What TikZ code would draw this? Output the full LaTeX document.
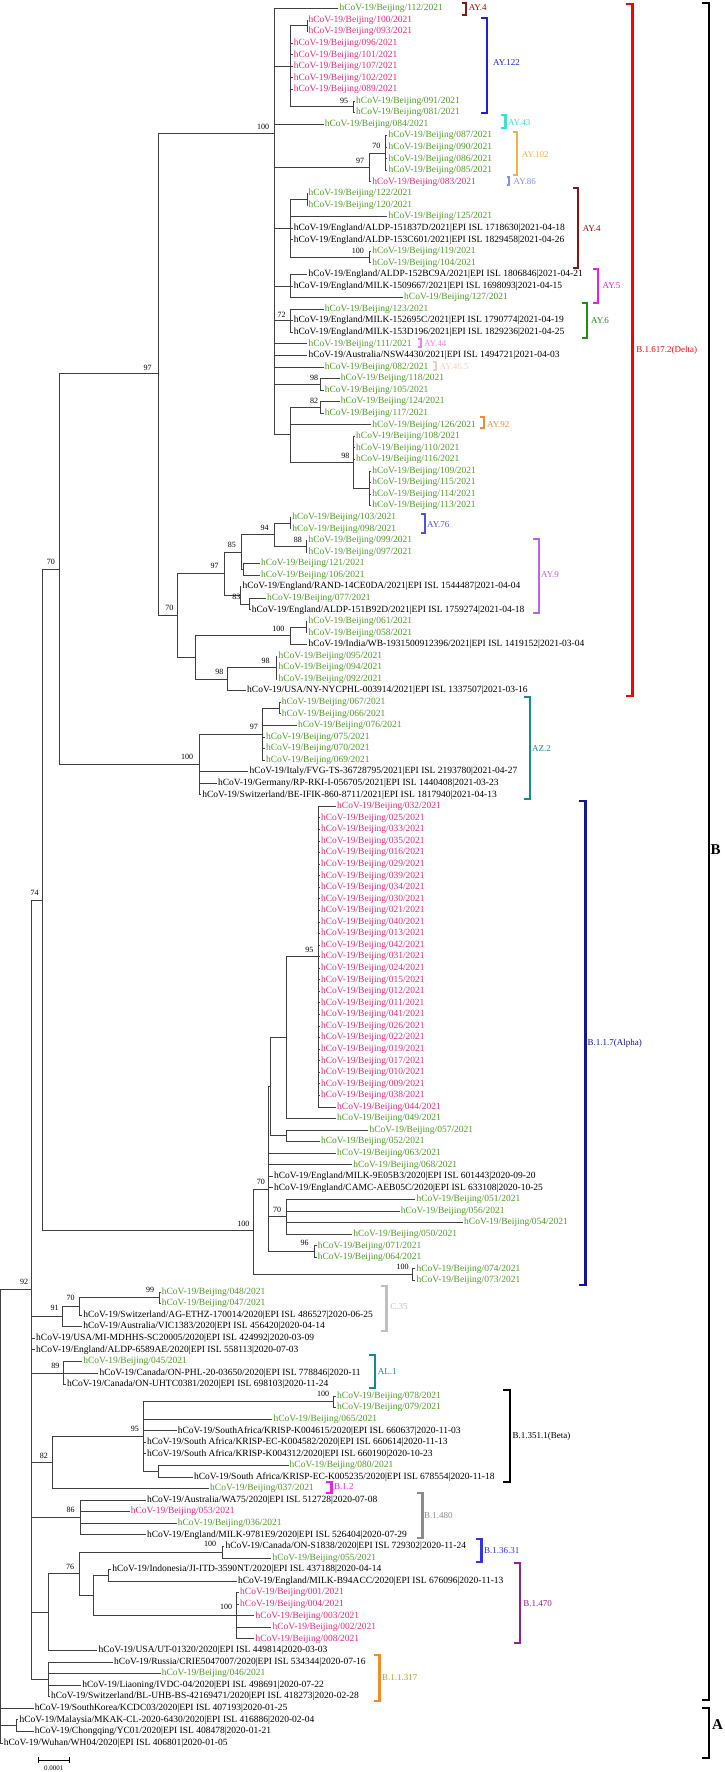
\documentclass[tikz,border=0pt]{standalone}
\usepackage{fontspec}
\setmainfont{Liberation Serif}
\definecolor{lg}{RGB}{80,155,40}
\definecolor{lp}{RGB}{232,40,125}
\definecolor{cAYfour}{RGB}{139,20,20}
\definecolor{cAY122}{RGB}{30,30,230}
\definecolor{cAY43}{RGB}{64,224,208}
\definecolor{cAY102}{RGB}{240,180,70}
\definecolor{cAY86}{RGB}{128,144,240}
\definecolor{cAY5}{RGB}{230,30,230}
\definecolor{cAY6}{RGB}{30,140,30}
\definecolor{cAY44}{RGB}{240,128,240}
\definecolor{cAY465}{RGB}{245,205,190}
\definecolor{cAY92}{RGB}{240,138,60}
\definecolor{cAY76}{RGB}{80,80,224}
\definecolor{cAY9}{RGB}{180,100,240}
\definecolor{cAZ2}{RGB}{20,140,140}
\definecolor{cAlpha}{RGB}{20,20,150}
\definecolor{cC35}{RGB}{192,192,192}
\definecolor{cAL1}{RGB}{20,140,140}
\definecolor{cB12}{RGB}{240,30,240}
\definecolor{cB480}{RGB}{140,140,140}
\definecolor{cB3631}{RGB}{50,50,230}
\definecolor{cB470}{RGB}{150,30,150}
\definecolor{cB317}{RGB}{240,140,40}
\definecolor{cB317t}{RGB}{180,160,50}
\newcommand\BJ[1]{hCoV-19/Beijing/#1/2021}
\newcommand\Lf[5]{\node[leaf,text=#4] (#1) at ({#3-1},#2) {#5};}
\newcommand\Brk[9]{\draw[brk,draw=#2] (#3,#5) -- (#4,#5) -- (#4,#6) -- (#3,#6);
  \node[clab,text=#2] (#1) at (#7,#8) {#9};}
\begin{document}
\begin{tikzpicture}[x=1pt,y=-1pt,
  tree/.style={line width=0.9pt,draw=black!75},
  leaf/.style={anchor=west,inner xsep=1pt,inner ysep=0pt,font=\fontsize{9.5}{10}\selectfont},
  bs/.style={inner sep=0pt,font=\fontsize{8}{9}\selectfont},
  brk/.style={line width=2.2pt},
  clab/.style={anchor=west,inner sep=0pt,font=\fontsize{9}{10}\selectfont}]
\useasboundingbox (0,0) rectangle (724,1772);
\begin{scope}[y=-11.563pt,yshift=3.063pt]
% ---------- leaves ----------
\Lf{L1}{1}{339.3}{lg}{\BJ{112}}
\Lf{L2}{2}{308.4}{lp}{\BJ{100}}
\Lf{L3}{3}{308.4}{lp}{\BJ{093}}
\Lf{L4}{4}{293.6}{lp}{\BJ{096}}
\Lf{L5}{5}{293.6}{lp}{\BJ{101}}
\Lf{L6}{6}{293.6}{lp}{\BJ{107}}
\Lf{L7}{7}{293.6}{lp}{\BJ{102}}
\Lf{L8}{8}{293.6}{lp}{\BJ{089}}
\Lf{L9}{9}{356}{lg}{\BJ{091}}
\Lf{L10}{10}{356}{lg}{\BJ{081}}
\Lf{L11}{11}{324.6}{lg}{\BJ{084}}
\Lf{L12}{12}{388.3}{lg}{\BJ{087}}
\Lf{L13}{13}{388.3}{lg}{\BJ{090}}
\Lf{L14}{14}{388.3}{lg}{\BJ{086}}
\Lf{L15}{15}{388.3}{lg}{\BJ{085}}
\Lf{L16}{16}{372.1}{lp}{\BJ{083}}
\Lf{L17}{17}{308.4}{lg}{\BJ{122}}
\Lf{L18}{18}{308.4}{lg}{\BJ{120}}
\Lf{L19}{19}{388.3}{lg}{\BJ{125}}
\Lf{L20}{20}{293.6}{black}{hCoV-19/England/ALDP-151837D/2021|EPI ISL 1718630|2021-04-18}
\Lf{L21}{21}{293.6}{black}{hCoV-19/England/ALDP-153C601/2021|EPI ISL 1829458|2021-04-26}
\Lf{L22}{22}{372.1}{lg}{\BJ{119}}
\Lf{L23}{23}{372.1}{lg}{\BJ{104}}
\Lf{L24}{24}{308.4}{black}{hCoV-19/England/ALDP-152BC9A/2021|EPI ISL 1806846|2021-04-21}
\Lf{L25}{25}{293.6}{black}{hCoV-19/England/MILK-1509667/2021|EPI ISL 1698093|2021-04-15}
\Lf{L26}{26}{404}{lg}{\BJ{127}}
\Lf{L27}{27}{324.6}{lg}{\BJ{123}}
\Lf{L28}{28}{293.6}{black}{hCoV-19/England/MILK-152695C/2021|EPI ISL 1790774|2021-04-19}
\Lf{L29}{29}{293.6}{black}{hCoV-19/England/MILK-153D196/2021|EPI ISL 1829236|2021-04-25}
\Lf{L30}{30}{308.4}{lg}{\BJ{111}}
\Lf{L31}{31}{308.4}{black}{hCoV-19/Australia/NSW4430/2021|EPI ISL 1494721|2021-04-03}
\Lf{L32}{32}{324.6}{lg}{\BJ{082}}
\Lf{L33}{33}{340.7}{lg}{\BJ{118}}
\Lf{L34}{34}{324.6}{lg}{\BJ{105}}
\Lf{L35}{35}{340.7}{lg}{\BJ{124}}
\Lf{L36}{36}{324.6}{lg}{\BJ{117}}
\Lf{L37}{37}{372.1}{lg}{\BJ{126}}
\Lf{L38}{38}{356}{lg}{\BJ{108}}
\Lf{L39}{39}{356}{lg}{\BJ{110}}
\Lf{L40}{40}{356}{lg}{\BJ{116}}
\Lf{L41}{41}{372.1}{lg}{\BJ{109}}
\Lf{L42}{42}{372.1}{lg}{\BJ{115}}
\Lf{L43}{43}{372.1}{lg}{\BJ{114}}
\Lf{L44}{44}{372.1}{lg}{\BJ{113}}
\Lf{L45}{45}{292.2}{lg}{\BJ{103}}
\Lf{L46}{46}{292.2}{lg}{\BJ{098}}
\Lf{L47}{47}{308.4}{lg}{\BJ{099}}
\Lf{L48}{48}{308.4}{lg}{\BJ{097}}
\Lf{L49}{49}{260.8}{lg}{\BJ{121}}
\Lf{L50}{50}{260.8}{lg}{\BJ{106}}
\Lf{L51}{51}{242.4}{black}{hCoV-19/England/RAND-14CE0DA/2021|EPI ISL 1544487|2021-04-04}
\Lf{L52}{52}{266.9}{lg}{\BJ{077}}
\Lf{L53}{53}{251.6}{black}{hCoV-19/England/ALDP-151B92D/2021|EPI ISL 1759274|2021-04-18}
\Lf{L54}{54}{308.4}{lg}{\BJ{061}}
\Lf{L55}{55}{308.4}{lg}{\BJ{058}}
\Lf{L56}{56}{308.4}{black}{hCoV-19/India/WB-1931500912396/2021|EPI ISL 1419152|2021-03-04}
\Lf{L57}{57}{278.4}{lg}{\BJ{095}}
\Lf{L58}{58}{278.4}{lg}{\BJ{094}}
\Lf{L59}{59}{278.4}{lg}{\BJ{092}}
\Lf{L60}{60}{247}{black}{hCoV-19/USA/NY-NYCPHL-003914/2021|EPI ISL 1337507|2021-03-16}
\Lf{L61}{61}{281.6}{lg}{\BJ{067}}
\Lf{L62}{62}{281.6}{lg}{\BJ{066}}
\Lf{L63}{63}{297.8}{lg}{\BJ{076}}
\Lf{L64}{64}{265.9}{lg}{\BJ{075}}
\Lf{L65}{65}{265.9}{lg}{\BJ{070}}
\Lf{L66}{66}{265.9}{lg}{\BJ{069}}
\Lf{L67}{67}{249.3}{black}{hCoV-19/Italy/FVG-TS-36728795/2021|EPI ISL 2193780|2021-04-27}
\Lf{L68}{68}{217.9}{black}{hCoV-19/Germany/RP-RKI-I-056705/2021|EPI ISL 1440408|2021-03-23}
\Lf{L69}{69}{202.2}{black}{hCoV-19/Switzerland/BE-IFIK-860-8711/2021|EPI ISL 1817940|2021-04-13}
\Lf{L70}{70}{337}{lp}{\BJ{032}}
\foreach \n [count=\k from 71] in {025,033,035,016,029,039,034,030,021,040,013,042,031,024,015,012,011,041,026,022,019,017,010,009,038}
  {\Lf{L\k}{\k}{320.9}{lp}{\BJ{\n}}}
\Lf{L96}{96}{337}{lp}{\BJ{044}}
\Lf{L97}{97}{337}{lg}{\BJ{049}}
\Lf{L98}{98}{369.4}{lg}{\BJ{057}}
\Lf{L99}{99}{320.9}{lg}{\BJ{052}}
\Lf{L100}{100}{337}{lg}{\BJ{063}}
\Lf{L101}{101}{353.2}{lg}{\BJ{068}}
\Lf{L102}{102}{273.8}{black}{hCoV-19/England/MILK-9E05B3/2020|EPI ISL 601443|2020-09-20}
\Lf{L103}{103}{273.8}{black}{hCoV-19/England/CAMC-AEB05C/2020|EPI ISL 633108|2020-10-25}
\Lf{L104}{104}{416.4}{lg}{\BJ{051}}
\Lf{L105}{105}{400.7}{lg}{\BJ{056}}
\Lf{L106}{106}{464}{lg}{\BJ{054}}
\Lf{L107}{107}{353.2}{lg}{\BJ{050}}
\Lf{L108}{108}{317.6}{lg}{\BJ{071}}
\Lf{L109}{109}{317.6}{lg}{\BJ{064}}
\Lf{L110}{110}{416.4}{lg}{\BJ{074}}
\Lf{L111}{111}{416.4}{lg}{\BJ{073}}
\Lf{L112}{112}{161.6}{lg}{\BJ{048}}
\Lf{L113}{113}{161.6}{lg}{\BJ{047}}
\Lf{L114}{114}{83.1}{black}{hCoV-19/Switzerland/AG-ETHZ-170014/2020|EPI ISL 486527|2020-06-25}
\Lf{L115}{115}{83.1}{black}{hCoV-19/Australia/VIC1383/2020|EPI ISL 456420|2020-04-14}
\Lf{L116}{116}{36}{black}{hCoV-19/USA/MI-MDHHS-SC20005/2020|EPI ISL 424992|2020-03-09}
\Lf{L117}{117}{36}{black}{hCoV-19/England/ALDP-6589AE/2020|EPI ISL 558113|2020-07-03}
\Lf{L118}{118}{83.1}{lg}{\BJ{045}}
\Lf{L119}{119}{99.3}{black}{hCoV-19/Canada/ON-PHL-20-03650/2020|EPI ISL 778846|2020-11}
\Lf{L120}{120}{66.9}{black}{hCoV-19/Canada/ON-UHTC0381/2020|EPI ISL 698103|2020-11-24}
\Lf{L121}{121}{337}{lg}{\BJ{078}}
\Lf{L122}{122}{337}{lg}{\BJ{079}}
\Lf{L123}{123}{273.3}{lg}{\BJ{065}}
\Lf{L124}{124}{177.7}{black}{hCoV-19/SouthAfrica/KRISP-K004615/2020|EPI ISL 660637|2020-11-03}
\Lf{L125}{125}{146.8}{black}{hCoV-19/South Africa/KRISP-EC-K004582/2020|EPI ISL 660614|2020-11-13}
\Lf{L126}{126}{146.8}{black}{hCoV-19/South Africa/KRISP-K004312/2020|EPI ISL 660190|2020-10-23}
\Lf{L127}{127}{289.5}{lg}{\BJ{080}}
\Lf{L128}{128}{193.9}{black}{hCoV-19/South Africa/KRISP-EC-K005235/2020|EPI ISL 678554|2020-11-18}
\Lf{L129}{129}{210}{lg}{\BJ{037}}
\Lf{L130}{130}{146.8}{black}{hCoV-19/Australia/WA75/2020|EPI ISL 512728|2020-07-08}
\Lf{L131}{131}{130.7}{lp}{\BJ{053}}
\Lf{L132}{132}{177.7}{lg}{\BJ{036}}
\Lf{L133}{133}{146.8}{black}{hCoV-19/England/MILK-9781E9/2020|EPI ISL 526404|2020-07-29}
\Lf{L134}{134}{225.3}{black}{hCoV-19/Canada/ON-S1838/2020|EPI ISL 729302|2020-11-24}
\Lf{L135}{135}{272.4}{lg}{\BJ{055}}
\Lf{L136}{136}{112.2}{black}{hCoV-19/Indonesia/JI-ITD-3590NT/2020|EPI ISL 437188|2020-04-14}
\Lf{L137}{137}{237.8}{black}{hCoV-19/England/MILK-B94ACC/2020|EPI ISL 676096|2020-11-13}
\Lf{L138}{138}{240}{lp}{\BJ{001}}
\Lf{L139}{139}{240}{lp}{\BJ{004}}
\Lf{L140}{140}{255.3}{lp}{\BJ{003}}
\Lf{L141}{141}{272.4}{lp}{\BJ{002}}
\Lf{L142}{142}{255.3}{lp}{\BJ{008}}
\Lf{L143}{143}{98.3}{black}{hCoV-19/USA/UT-01320/2020|EPI ISL 449814|2020-03-03}
\Lf{L144}{144}{114}{black}{hCoV-19/Russia/CRIE5047007/2020|EPI ISL 534344|2020-07-16}
\Lf{L145}{145}{161.6}{lg}{\BJ{046}}
\Lf{L146}{146}{82.2}{black}{hCoV-19/Liaoning/IVDC-04/2020|EPI ISL 498691|2020-07-22}
\Lf{L147}{147}{50.8}{black}{hCoV-19/Switzerland/BL-UHB-BS-42169471/2020|EPI ISL 418273|2020-02-28}
\Lf{L148}{148}{34.6}{black}{hCoV-19/SouthKorea/KCDC03/2020|EPI ISL 407193|2020-01-25}
\Lf{L149}{149}{19.4}{black}{hCoV-19/Malaysia/MKAK-CL-2020-6430/2020|EPI ISL 416886|2020-02-04}
\Lf{L150}{150}{34.6}{black}{hCoV-19/Chongqing/YC01/2020|EPI ISL 408478|2020-01-21}
\Lf{L151}{151}{3.7}{black}{hCoV-19/Wuhan/WH04/2020|EPI ISL 406801|2020-01-05}
% ---------- internal nodes ----------
\coordinate (R) at (0.8,131.4);
\coordinate (N92) at (31.4,111.8);
\coordinate (N74) at (42.9,78.1);
\coordinate (N70m) at (59.1,49.5);
\coordinate (N97D) at (158.4,32.6);
\coordinate (NP) at (274.7,11.8);
\coordinate (N122) at (290,6);
\coordinate (N100a) at (307,2.5);
\coordinate (N95a) at (353.2,9.5);
\coordinate (N97a) at (369.4,14.75);
\coordinate (N70d) at (385.5,13.5);
\coordinate (NAY4) at (290,20);
\coordinate (N122b) at (307,17.5);
\coordinate (N100f) at (369.4,22.5);
\coordinate (NAY5) at (290,25);
\coordinate (N72) at (290,28);
\coordinate (N98c) at (320.9,33.5);
\coordinate (NT) at (290,37.875);
\coordinate (N82b) at (320.9,35.5);
\coordinate (N98d) at (353.2,40.25);
\coordinate (NU) at (369.4,42.5);
\coordinate (N70D) at (177.8,53.45);
\coordinate (N97b) at (224,49.875);
\coordinate (N85) at (241,48);
\coordinate (N94) at (274.7,46.5);
\coordinate (N103) at (290,45.5);
\coordinate (N88) at (306,47.5);
\coordinate (N121) at (243.8,49.5);
\coordinate (Nr) at (240,51.75);
\coordinate (N83) at (249.3,52.5);
\coordinate (NQ) at (195.3,57.1);
\coordinate (N100b) at (290,55.25);
\coordinate (N61) at (306,54.5);
\coordinate (N98) at (227.6,59);
\coordinate (N98b) at (276,58);
\coordinate (NAZ) at (199.4,66.375);
\coordinate (N97c) at (262.2,63.75);
\coordinate (N67) at (279.3,61.5);
\coordinate (Nal) at (253.9,106.7);
\coordinate (N70a) at (268.5,103.1);
\coordinate (Nc) at (270.5,94.25);
\coordinate (Nb) at (286.2,90);
\coordinate (N95) at (318.6,83);
\coordinate (N57) at (286.2,98.5);
\coordinate (N70b) at (286.2,105.5);
\coordinate (N71) at (314,108.5);
\coordinate (N74b) at (412.3,110.5);
\coordinate (N91) at (62.3,114.1);
\coordinate (N70c) at (79.9,113.25);
\coordinate (N99) at (159.3,112.5);
\coordinate (N89) at (63,119);
\coordinate (N82) at (52.2,126.75);
\coordinate (N95b) at (143.1,124.5);
\coordinate (N100c) at (333.3,121.5);
\coordinate (N80) at (158.4,127.5);
\coordinate (N86) at (80.8,131.5);
\coordinate (Nx35) at (48.5,139.7);
\coordinate (N76) at (79.4,136.375);
\coordinate (N100d) at (222.5,134.5);
\coordinate (Ny) at (93.7,138.25);
\coordinate (Nind) at (108.5,136.5);
\coordinate (N100e) at (236.8,140);
\coordinate (N317) at (48.5,145.5);
\coordinate (NMC) at (16.6,149.5);
% ---------- branches ----------
\foreach \c in {N92,L148.west,NMC,L151.west} \draw[tree] (R) |- (\c);
\foreach \c in {L149.west,L150.west} \draw[tree] (NMC) |- (\c);
\foreach \c in {N74,N91,L116.west,L117.west,N89,N82,N86,Nx35,N317} \draw[tree] (N92) |- (\c);
\foreach \c in {N70m,Nal} \draw[tree] (N74) |- (\c);
\foreach \c in {N97D,NAZ} \draw[tree] (N70m) |- (\c);
\foreach \c in {NP,N70D} \draw[tree] (N97D) |- (\c);
\foreach \c in {L1.west,N122,L11.west,N97a,NAY4,NAY5,N72,L30.west,L31.west,L32.west,N98c,NT} \draw[tree] (NP) |- (\c);
\foreach \c in {N100a,L4.west,L5.west,L6.west,L7.west,L8.west,N95a} \draw[tree] (N122) |- (\c);
\foreach \c in {L2.west,L3.west} \draw[tree] (N100a) |- (\c);
\foreach \c in {L9.west,L10.west} \draw[tree] (N95a) |- (\c);
\foreach \c in {N70d,L16.west} \draw[tree] (N97a) |- (\c);
\foreach \c in {L12.west,L13.west,L14.west,L15.west} \draw[tree] (N70d) |- (\c);
\foreach \c in {N122b,L19.west,L20.west,L21.west,N100f} \draw[tree] (NAY4) |- (\c);
\foreach \c in {L17.west,L18.west} \draw[tree] (N122b) |- (\c);
\foreach \c in {L22.west,L23.west} \draw[tree] (N100f) |- (\c);
\foreach \c in {L24.west,L25.west,L26.west} \draw[tree] (NAY5) |- (\c);
\foreach \c in {L27.west,L28.west,L29.west} \draw[tree] (N72) |- (\c);
\foreach \c in {L33.west,L34.west} \draw[tree] (N98c) |- (\c);
\foreach \c in {N82b,L37.west,N98d} \draw[tree] (NT) |- (\c);
\foreach \c in {L35.west,L36.west} \draw[tree] (N82b) |- (\c);
\foreach \c in {L38.west,L39.west,L40.west,NU} \draw[tree] (N98d) |- (\c);
\foreach \c in {L41.west,L42.west,L43.west,L44.west} \draw[tree] (NU) |- (\c);
\foreach \c in {N97b,NQ} \draw[tree] (N70D) |- (\c);
\foreach \c in {N85,Nr} \draw[tree] (N97b) |- (\c);
\foreach \c in {N94,N121} \draw[tree] (N85) |- (\c);
\foreach \c in {N103,N88} \draw[tree] (N94) |- (\c);
\foreach \c in {L45.west,L46.west} \draw[tree] (N103) |- (\c);
\foreach \c in {L47.west,L48.west} \draw[tree] (N88) |- (\c);
\foreach \c in {L49.west,L50.west} \draw[tree] (N121) |- (\c);
\foreach \c in {L51.west,N83} \draw[tree] (Nr) |- (\c);
\foreach \c in {L52.west,L53.west} \draw[tree] (N83) |- (\c);
\foreach \c in {N100b,N98} \draw[tree] (NQ) |- (\c);
\foreach \c in {N61,L56.west} \draw[tree] (N100b) |- (\c);
\foreach \c in {L54.west,L55.west} \draw[tree] (N61) |- (\c);
\foreach \c in {N98b,L60.west} \draw[tree] (N98) |- (\c);
\foreach \c in {L57.west,L58.west,L59.west} \draw[tree] (N98b) |- (\c);
\foreach \c in {N97c,L67.west,L68.west,L69.west} \draw[tree] (NAZ) |- (\c);
\foreach \c in {N67,L63.west,L64.west,L65.west,L66.west} \draw[tree] (N97c) |- (\c);
\foreach \c in {L61.west,L62.west} \draw[tree] (N67) |- (\c);
\foreach \c in {N70a,N74b} \draw[tree] (Nal) |- (\c);
\foreach \c in {Nc,L100.west,L101.west,L102.west,L103.west,N70b,N71} \draw[tree] (N70a) |- (\c);
\foreach \c in {Nb,N57} \draw[tree] (Nc) |- (\c);
\foreach \c in {N95,L97.west} \draw[tree] (Nb) |- (\c);
\foreach \k in {70,...,96} \draw[tree] (N95) |- (L\k.west);
\foreach \c in {L98.west,L99.west} \draw[tree] (N57) |- (\c);
\foreach \c in {L104.west,L105.west,L106.west,L107.west} \draw[tree] (N70b) |- (\c);
\foreach \c in {L108.west,L109.west} \draw[tree] (N71) |- (\c);
\foreach \c in {L110.west,L111.west} \draw[tree] (N74b) |- (\c);
\foreach \c in {N70c,L115.west} \draw[tree] (N91) |- (\c);
\foreach \c in {N99,L114.west} \draw[tree] (N70c) |- (\c);
\foreach \c in {L112.west,L113.west} \draw[tree] (N99) |- (\c);
\foreach \c in {L118.west,L119.west,L120.west} \draw[tree] (N89) |- (\c);
\foreach \c in {N95b,L129.west} \draw[tree] (N82) |- (\c);
\foreach \c in {N100c,L123.west,L124.west,L125.west,L126.west,N80} \draw[tree] (N95b) |- (\c);
\foreach \c in {L121.west,L122.west} \draw[tree] (N100c) |- (\c);
\foreach \c in {L127.west,L128.west} \draw[tree] (N80) |- (\c);
\foreach \c in {L130.west,L131.west,L132.west,L133.west} \draw[tree] (N86) |- (\c);
\foreach \c in {N76,L143.west} \draw[tree] (Nx35) |- (\c);
\foreach \c in {N100d,Ny} \draw[tree] (N76) |- (\c);
\foreach \c in {L134.west,L135.west} \draw[tree] (N100d) |- (\c);
\foreach \c in {Nind,N100e} \draw[tree] (Ny) |- (\c);
\foreach \c in {L136.west,L137.west} \draw[tree] (Nind) |- (\c);
\foreach \c in {L138.west,L139.west,L140.west,L141.west,L142.west} \draw[tree] (N100e) |- (\c);
\foreach \c in {L144.west,L145.west,L146.west,L147.west} \draw[tree] (N317) |- (\c);
\end{scope}
% ---------- bootstrap values ----------
\foreach \x/\y/\t [count=\k] in {263.2/126.7/100,344/100.7/95,376.3/145.7/70,360.1/161/97,357.8/251/100,281.6/315/72,314/378.3/98,314/401/82,147.7/367.7/97,345.3/455.7/98,264.5/528.3/94,297.8/540/88,231.8/545/85,214.7/566/97,50.8/562.3/70,236.4/596.7/83,169.4/608.3/70,278.4/629.3/100,265.5/661/98,219.3/671.7/98,253.9/726.7/97,187/757.3/100,34.6/893.3/74,309.3/950/95,260.8/1182.3/70,277/1210/70,243.3/1224.3/100,304.7/1243.3/96,402.6/1267.3/100,24/1282.3/92,150/1290/99,70.6/1298.3/70,54.5/1308.3/91,55.4/1366/89,323.2/1394.3/100,134.8/1429.3/95,43.9/1455.7/82,70.6/1510/86,210/1544.3/100,70.2/1566.7/76,226.2/1607/100}
  \node[bs] (bs\k) at (\x,\y) {\t};
% ---------- clade brackets ----------
\Brk{bAYfa}{cAYfour}{461.7}{466.3}{2.7}{15}{468.6}{8}{AY.4}
\Brk{bAY122}{cAY122}{481}{487}{18.3}{112.7}{493}{62.7}{AY.122}
\Brk{bAY43}{cAY43}{501}{505.5}{115}{128}{507.8}{123}{AY.43}
\Brk{bAY102}{cAY102}{512.5}{517}{131.7}{175}{521.7}{155}{AY.102}
\Brk{bAY86}{cAY86}{506.5}{509.2}{176.7}{185}{513.4}{182}{AY.86}
\Brk{bAYfb}{cAYfour}{572.5}{578}{187.7}{267.7}{582.6}{228.3}{AY.4}
\Brk{bAY5}{cAY5}{593.3}{597.9}{269}{303.3}{602.5}{285.7}{AY.5}
\Brk{bAY6}{cAY6}{581.7}{587.3}{303.3}{337.7}{591}{320.7}{AY.6}
\Brk{bAY44}{cAY44}{417.8}{421}{339.3}{346.7}{423.8}{343.7}{AY.44}
\Brk{bAY465}{cAY465}{433}{436.3}{361.7}{370}{439.5}{366.7}{AY.46.5}
\Brk{bAY92}{cAY92}{480.1}{483.8}{416.7}{428.3}{487}{424.7}{AY.92}
\Brk{bAY76}{cAY76}{421}{424.7}{514}{532.7}{427}{525}{AY.76}
\Brk{bAY9}{cAY9}{533.2}{538.8}{539.3}{612.7}{541}{574.3}{AY.9}
\Brk{bDelta}{red}{625.6}{632.5}{4}{696}{636.2}{350}{B.1.617.2(Delta)}
\Brk{bAZ2}{cAZ2}{524}{530}{696.7}{799.3}{531.9}{748.3}{AZ.2}
\Brk{bAlpha}{cAlpha}{579.4}{585.4}{801}{1285}{587.3}{1043.3}{B.1.1.7(Alpha)}
\Brk{bC35}{cC35}{380.9}{386.4}{1286}{1331}{390.1}{1306.7}{C.35}
\Brk{bAL1}{cAL1}{369.3}{374.9}{1355}{1388.3}{377.7}{1371.7}{AL.1}
\Brk{bBeta}{black}{503.2}{510.2}{1390}{1481.7}{512.5}{1436}{B.1.351.1(Beta)}
\Brk{bB12}{cB12}{325.5}{331.5}{1482.3}{1493.3}{333.8}{1487}{B.1.2}
\Brk{bB480}{cB480}{416.9}{422.4}{1493.3}{1538.3}{423.8}{1515.7}{B.1.480}
\Brk{bB3631}{cB3631}{475.5}{481.5}{1539.3}{1561.7}{483.8}{1550.7}{B.1.36.31}
\Brk{bB470}{cB470}{513.9}{520.3}{1563.3}{1642.7}{523.1}{1603.3}{B.1.470}
\draw[brk,draw=cB317] (374,1655) -- (379.5,1655) -- (379.5,1701) -- (374,1701);
\node[clab,text=cB317t] (bB317) at (381.8,1677.7) {B.1.1.317};
% ---------- major groups ----------
\draw[brk,draw=black] (701.8,3.3) -- (708.7,3.3) -- (708.7,1700) -- (701.8,1700);
\node[font=\fontsize{15}{15}\selectfont\bfseries,inner sep=0pt] (gB) at (715.6,850) {B};
\draw[brk,draw=black] (701.8,1707.7) -- (708.7,1707.7) -- (708.7,1758.3) -- (701.8,1758.3);
\node[font=\fontsize{15}{15}\selectfont\bfseries,inner sep=0pt] (gA) at (717.5,1725) {A};
% ---------- scale bar ----------
\coordinate (sb1) at (38.3,1760);
\coordinate (sb2) at (69.3,1760);
\draw[line width=0.8pt] (sb1) -- (sb2);
\draw[line width=0.8pt] ([yshift=3pt]sb1) -- ([yshift=-3pt]sb1);
\draw[line width=0.8pt] ([yshift=3pt]sb2) -- ([yshift=-3pt]sb2);
\node[inner sep=0pt,font=\fontsize{7}{8}\selectfont] (sbl) at (53.8,1768) {0.0001};
\end{tikzpicture}
\end{document}
